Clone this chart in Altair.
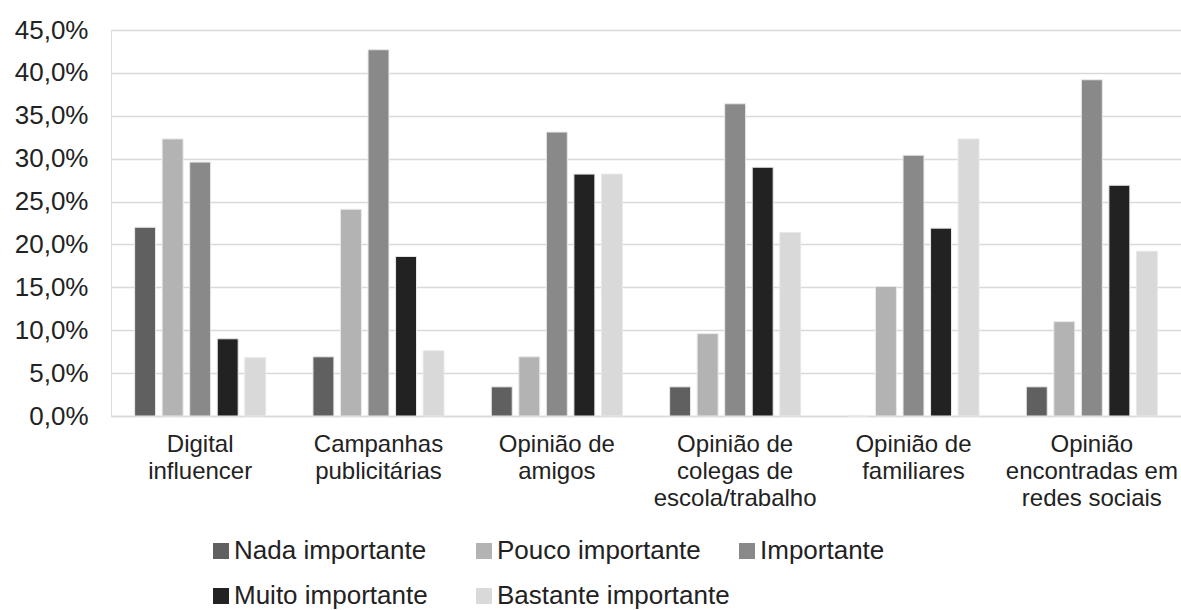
import json
import altair as alt
import pandas as pd

categories = [
    "Digital influencer",
    "Campanhas publicitárias",
    "Opinião de amigos",
    "Opinião de colegas de escola/trabalho",
    "Opinião de familiares",
    "Opinião encontradas em redes sociais",
]
category_lines = [
    ["Digital", "influencer"],
    ["Campanhas", "publicitárias"],
    ["Opinião de", "amigos"],
    ["Opinião de", "colegas de", "escola/trabalho"],
    ["Opinião de", "familiares"],
    ["Opinião", "encontradas em", "redes sociais"],
]
levels = ["Nada importante", "Pouco importante", "Importante",
          "Muito importante", "Bastante importante"]
colors = ["#606060", "#b3b3b3", "#898989", "#222222", "#d9d9d9"]

nada = [22.0, 6.9, 3.4, 3.4, 0.0, 3.4]
pouco = [32.3, 24.1, 6.9, 9.6, 15.1, 11.0]
importante = [29.6, 42.7, 33.1, 36.4, 30.4, 39.2]
muito = [9.0, 18.6, 28.2, 29.0, 21.9, 26.9]
bastante = [6.8, 7.6, 28.2, 21.4, 32.3, 19.2]
y_ticks = [0, 5, 10, 15, 20, 25, 30, 35, 40, 45]

series = [nada, pouco, importante, muito, bastante]
rows = []
for lvl, vals in zip(levels, series):
    for cat, v in zip(categories, vals):
        rows.append({"categoria": cat, "nivel": lvl, "valor": v})
df = pd.DataFrame(rows)

label_expr = ""
for cat, lines in zip(categories, category_lines):
    label_expr += f"datum.label == {json.dumps(cat, ensure_ascii=False)} ? {json.dumps(lines, ensure_ascii=False)} : "
label_expr += "datum.label"

FONT = "Liberation Sans"

chart = alt.Chart(df).mark_bar(stroke="#e8e8e8", strokeWidth=1).encode(
    x=alt.X("categoria:N", sort=categories, title=None,
            scale=alt.Scale(paddingInner=0.265, paddingOuter=0.1325),
            axis=alt.Axis(labelExpr=label_expr, labelAngle=0, labelFontSize=24,
                          labelFont=FONT, labelColor="#222222", labelLineHeight=27,
                          labelBaseline="top", labelPadding=16, ticks=False,
                          domainColor="#d9d9d9", domainWidth=1.5, grid=False,
                          labelLimit=300)),
    xOffset=alt.XOffset("nivel:N", sort=levels,
                        scale=alt.Scale(paddingInner=0.24, paddingOuter=0)),
    y=alt.Y("valor:Q", title=None,
            scale=alt.Scale(domain=[0, 45], nice=False),
            axis=alt.Axis(values=y_ticks,
                          labelExpr="replace(format(datum.value, '.1f'), '.', ',') + '%'",
                          labelFontSize=26, labelFont=FONT, labelColor="#222222",
                          labelPadding=23, ticks=False, domain=False,
                          gridColor="#d9d9d9", gridWidth=1.5)),
    color=alt.Color("nivel:N", sort=levels,
                    scale=alt.Scale(domain=levels, range=colors),
                    legend=alt.Legend(title=None, orient="none", legendX=97, legendY=508,
                                      direction="horizontal", columns=3, gridAlign="all",
                                      columnPadding=4, rowPadding=19,
                                      symbolType="square", symbolSize=256,
                                      symbolStrokeWidth=0, labelFontSize=26,
                                      labelFont=FONT, labelColor="#222222",
                                      labelOffset=0, labelLimit=400)),
).properties(
    width=1070, height=386,
    autosize=alt.AutoSizeParams(type="none"),
    padding={"left": 111, "top": 30, "right": 0, "bottom": 194},
).configure_view(stroke=None).configure(background="white")

chart.save("out.html", embed_options={"renderer": "svg", "actions": False})
